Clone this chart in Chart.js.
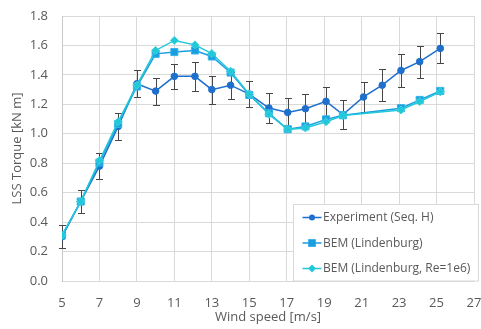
<!DOCTYPE html>
<html>
<head>
<meta charset="utf-8">
<title>LSS Torque vs Wind speed</title>
<script src="https://cdn.jsdelivr.net/npm/chart.js@4/dist/chart.umd.min.js"></script>
<style>
  html, body { margin: 0; padding: 0; background: #ffffff; }
  #wrap { width: 481px; height: 329px; }
</style>
</head>
<body>
<div id="wrap"><canvas id="chart" width="481" height="329"></canvas></div>
<script>
// Measured LSS torque (Seq. H) with its uncertainty band
const windExp   = [5, 6, 7, 8, 9, 10, 11, 12.1, 13, 14, 15, 16.05, 17.05, 18.0, 19.1, 20.0, 21.1, 22.1, 23.1, 24.1, 25.2];
const torqueExp = [0.30, 0.54, 0.78, 1.05, 1.34, 1.29, 1.39, 1.39, 1.30, 1.33, 1.27, 1.175, 1.145, 1.17, 1.22, 1.13, 1.25, 1.33, 1.43, 1.49, 1.58];
const errExp    = [0.077, 0.075, 0.087, 0.093, 0.09, 0.092, 0.085, 0.097, 0.095, 0.092, 0.09, 0.10, 0.095, 0.098, 0.10, 0.10, 0.10, 0.108, 0.109, 0.109, 0.102];

// BEM predictions at the measured wind speeds
const windBem     = [5, 6, 7, 8, 9, 10, 11, 12.1, 13, 14, 15, 16.05, 17.05, 18.0, 19.1, 20.0, 23.1, 24.1, 25.2];
const torqueBem   = [0.31, 0.54, 0.805, 1.067, 1.321, 1.543, 1.555, 1.566, 1.525, 1.416, 1.264, 1.139, 1.031, 1.05, 1.098, 1.126, 1.174, 1.23, 1.291];
const torqueBemRe = [0.31, 0.54, 0.817, 1.082, 1.33, 1.566, 1.634, 1.604, 1.545, 1.425, 1.268, 1.133, 1.03, 1.04, 1.082, 1.124, 1.162, 1.219, 1.285];

const seriesNames = ['Experiment (Seq. H)', 'BEM (Lindenburg)', 'BEM (Lindenburg, Re=1e6)'];
const xTitle = 'Wind speed [m/s]';
const yTitle = 'LSS Torque [kN m]';

const FONT = '"Open Sans", "DejaVu Sans", sans-serif';
const TEXT = '#595959';
const GRID = '#d9d9d9';
const C_EXP = '#1f6fcc';
const C_BEM = '#1a9ee0';
const C_RE  = '#20c8d8';

const toPts = (xs, ys) => xs.map((x, i) => ({ x: x, y: ys[i] }));

// Marker shapes shared by the plot and the legend
function marker(ctx, style, x, y, s) {
  ctx.beginPath();
  if (style === 'circle') {
    ctx.arc(x, y, s, 0, Math.PI * 2);
  } else if (style === 'rect') {
    ctx.rect(x - s, y - s, 2 * s, 2 * s);
  } else {
    ctx.moveTo(x - s, y); ctx.lineTo(x, y - s); ctx.lineTo(x + s, y); ctx.lineTo(x, y + s);
    ctx.closePath();
  }
}

// Vertical error bars with caps, drawn beneath the series
const errorBars = {
  id: 'errorBars',
  beforeDatasetsDraw(chart) {
    const { ctx, scales: { x, y } } = chart;
    ctx.save();
    ctx.strokeStyle = '#474747';
    ctx.lineWidth = 1;
    windExp.forEach((w, i) => {
      const px = Math.round(x.getPixelForValue(w)) + 0.5;
      const top = Math.round(y.getPixelForValue(torqueExp[i] + errExp[i])) + 0.5;
      const bot = Math.round(y.getPixelForValue(torqueExp[i] - errExp[i])) + 0.5;
      ctx.beginPath();
      ctx.moveTo(px, top); ctx.lineTo(px, bot);
      ctx.moveTo(px - 3.5, top); ctx.lineTo(px + 3.5, top);
      ctx.moveTo(px - 3.5, bot); ctx.lineTo(px + 3.5, bot);
      ctx.stroke();
    });
    ctx.restore();
  }
};

// Boxed legend in the lower right corner of the plot
const boxLegend = {
  id: 'boxLegend',
  afterDraw(chart) {
    const { ctx, chartArea } = chart;
    const bx = 293.5, by = 204.5, bw = 185, bh = Math.round(chartArea.bottom) - by;
    const legendSize = { circle: 3, rect: 3.8, rectRot: 4 };
    ctx.save();
    ctx.fillStyle = '#ffffff';
    ctx.fillRect(bx, by, bw, bh);
    ctx.strokeStyle = GRID;
    ctx.lineWidth = 1;
    ctx.strokeRect(bx, by, bw, bh);
    const rows = [217.5, 243, 268.5];
    ctx.font = '12px ' + FONT;
    ctx.textBaseline = 'middle';
    ctx.textAlign = 'left';
    chart.data.datasets.forEach((ds, i) => {
      const yy = rows[i];
      ctx.strokeStyle = ds.borderColor;
      ctx.lineWidth = 1.5;
      ctx.beginPath();
      ctx.moveTo(302.5, yy); ctx.lineTo(321.5, yy);
      ctx.stroke();
      ctx.fillStyle = ds.pointBackgroundColor;
      marker(ctx, ds.pointStyle, 312, yy, legendSize[ds.pointStyle]);
      ctx.fill();
      ctx.fillStyle = TEXT;
      ctx.fillText(seriesNames[i], 323, yy + 0.5);
    });
    ctx.restore();
  }
};

new Chart(document.getElementById('chart'), {
  type: 'line',
  data: {
    datasets: [
      {
        label: seriesNames[0], data: toPts(windExp, torqueExp), order: 2,
        borderColor: C_EXP, backgroundColor: C_EXP, borderWidth: 1.5,
        pointStyle: 'circle', pointRadius: 3.3, pointBackgroundColor: C_EXP, pointBorderColor: C_EXP, pointBorderWidth: 1
      },
      {
        label: seriesNames[1], data: toPts(windBem, torqueBem), order: 1,
        borderColor: C_BEM, backgroundColor: C_BEM, borderWidth: 1.5,
        pointStyle: 'rect', pointRadius: 5, pointBackgroundColor: C_BEM, pointBorderColor: '#35b4e8', pointBorderWidth: 1
      },
      {
        label: seriesNames[2], data: toPts(windBem, torqueBemRe), order: 0,
        borderColor: C_RE, backgroundColor: C_RE, borderWidth: 1.5,
        pointStyle: 'rectRot', pointRadius: 4, pointBackgroundColor: C_RE, pointBorderColor: '#3fd3e0', pointBorderWidth: 1
      }
    ]
  },
  options: {
    responsive: false,
    animation: false,
    events: [],
    layout: { padding: { left: 0, right: 7, top: 16, bottom: 0 } },
    plugins: { legend: { display: false }, tooltip: { enabled: false } },
    scales: {
      x: {
        type: 'linear', min: 5, max: 27,
        ticks: { stepSize: 2, color: TEXT, padding: 14, font: { family: FONT, size: 13 } },
        grid: { color: GRID, drawTicks: false },
        border: { color: GRID },
        title: { display: true, text: xTitle, color: TEXT, font: { family: FONT, size: 13 }, padding: { top: 0, bottom: 4 } },
        afterFit(scale) { scale.height = 48; scale.paddingLeft = 0; scale.paddingRight = 0; }
      },
      y: {
        type: 'linear', min: 0, max: 1.8,
        ticks: { stepSize: 0.2, color: TEXT, padding: 14, font: { family: FONT, size: 13 },
                 callback: v => Number(v).toFixed(1) },
        grid: { color: GRID, drawTicks: false },
        border: { color: '#c8c8c8' },
        title: { display: true, text: yTitle, color: TEXT, font: { family: FONT, size: 13 }, padding: { top: 9, bottom: 0 } },
        afterFit(scale) { scale.width = 62; scale.paddingTop = 0; scale.paddingBottom = 0; }
      }
    }
  },
  plugins: [errorBars, boxLegend]
});
</script>
</body>
</html>
